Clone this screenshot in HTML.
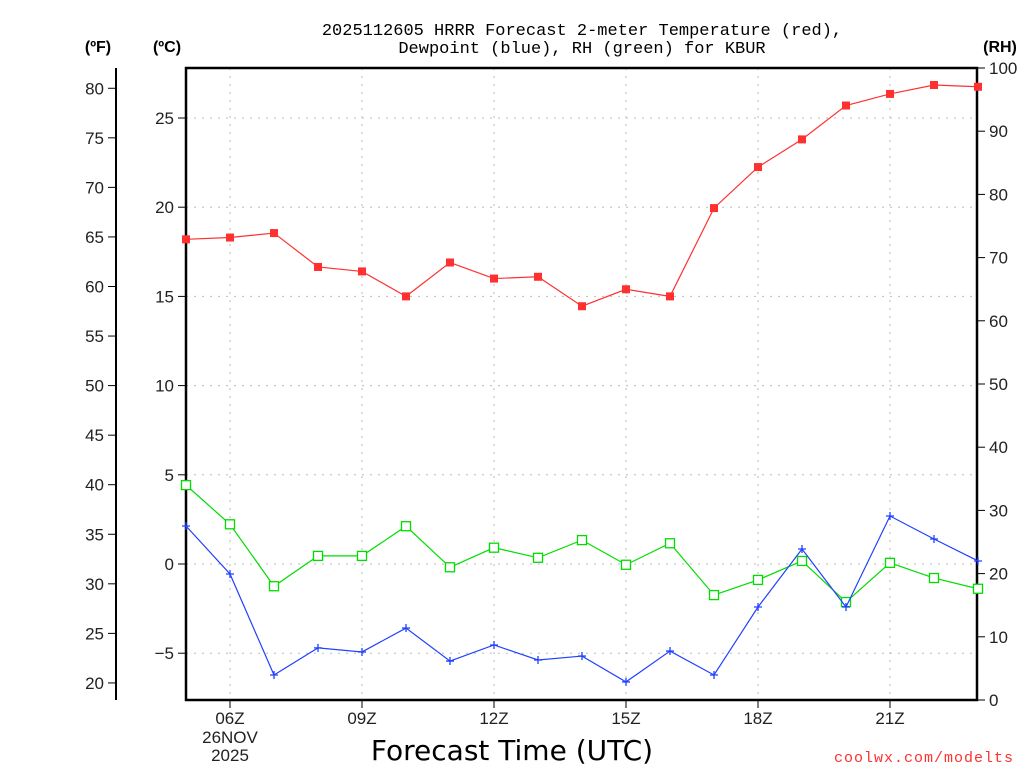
<!DOCTYPE html>
<html><head><meta charset="utf-8"><style>
body{margin:0;background:#fff;width:1024px;height:768px;overflow:hidden}
svg{display:block;font-family:"Liberation Sans","DejaVu Sans",sans-serif}
</style></head><body>
<svg id="c" width="1024" height="768">
<text x="582" y="35" text-anchor="middle" font-size="17" font-family="Liberation Mono, monospace">2025112605 HRRR Forecast 2-meter Temperature (red),</text>
<text x="582" y="53" text-anchor="middle" font-size="17" font-family="Liberation Mono, monospace">Dewpoint (blue), RH (green) for KBUR</text>
<text x="98" y="52" text-anchor="middle" font-size="16" font-weight="bold">(ºF)</text>
<text x="167" y="52" text-anchor="middle" font-size="16" font-weight="bold">(ºC)</text>
<text x="1000" y="52" text-anchor="middle" font-size="16" font-weight="bold">(RH)</text>
<text x="512" y="760" text-anchor="middle" font-size="28" font-family="DejaVu Sans, sans-serif">Forecast Time (UTC)</text>
<text x="1014" y="762" text-anchor="end" font-size="15" fill="#ff3030" font-family="Liberation Mono, monospace" letter-spacing="1">coolwx.com/modelts</text>
<g id="g"></g>
</svg>
<script>
const hours=[5,6,7,8,9,10,11,12,13,14,15,16,17,18,19,20,21,22,23];
const tempC=[18.2,18.3,18.55,16.65,16.4,15.0,16.9,16.0,16.1,14.45,15.4,15.0,19.95,22.25,23.8,25.7,26.35,26.85,26.75];
const dewC=[2.13,-0.56,-6.22,-4.7,-4.93,-3.59,-5.44,-4.54,-5.38,-5.16,-6.61,-4.88,-6.22,-2.41,0.84,-2.41,2.69,1.4,0.17];
const rh=[34.0,27.8,18.0,22.8,22.8,27.5,21.0,24.1,22.5,25.3,21.4,24.8,16.6,19.0,22.0,15.5,21.7,19.3,17.6];
const cTicks=[-5,0,5,10,15,20,25];
const fTicks=[20,25,30,35,40,45,50,55,60,65,70,75,80];
const rhTicks=[0,10,20,30,40,50,60,70,80,90,100];
const xTicks=[6,9,12,15,18,21];
const L=186,R=977,T=68,B=700;
const x=h=>L+(h-5)*44;
const yC=c=>564-c*17.84;
const yF=f=>yC((f-32)*5/9);
const yR=r=>B-r*6.32;
const g=document.getElementById('g');
const NS='http://www.w3.org/2000/svg';
function el(t,a,txt){const e=document.createElementNS(NS,t);for(const k in a)e.setAttribute(k,a[k]);if(txt!==undefined)e.textContent=txt;g.appendChild(e);return e;}
// grid
for(const h of xTicks){const e=el('line',{x1:x(h),x2:x(h),y1:T,y2:B,stroke:'#bbb','stroke-dasharray':'2 6'});

}
for(const c of cTicks){const e=el('line',{x1:L,x2:R,y1:yC(c),y2:yC(c),stroke:'#bbb','stroke-dasharray':'2 6'});

}
// ticks
for(const c of cTicks){el('line',{x1:L-8,x2:L,y1:yC(c),y2:yC(c),stroke:'#000'});
const t=el('text',{x:L-12,y:yC(c)+6,'text-anchor':'end','font-size':17,'fill':'#222'},c<0?'\u2212'+(-c):c);

}
for(const f of fTicks){el('line',{x1:108,x2:116,y1:yF(f),y2:yF(f),stroke:'#000'});
const t=el('text',{x:104,y:yF(f)+6,'text-anchor':'end','font-size':17,'fill':'#222'},f);

}
for(const r of rhTicks){el('line',{x1:R,x2:R+8,y1:yR(r),y2:yR(r),stroke:'#000'});
const t=el('text',{x:R+12,y:yR(r)+6,'font-size':17,'fill':'#222'},r);

}
for(const h of xTicks){el('line',{x1:x(h),x2:x(h),y1:B,y2:B+8,stroke:'#000'});
const t=el('text',{x:x(h),y:B+24,'text-anchor':'middle','font-size':17,'fill':'#222'},String(h).padStart(2,'0')+'Z');

}
const d1=el('text',{x:x(6),y:B+43,'text-anchor':'middle','font-size':17,'fill':'#222'},'26NOV');


const d2=el('text',{x:x(6),y:B+61,'text-anchor':'middle','font-size':17,'fill':'#222'},'2025');


// axes
el('line',{x1:116,x2:116,y1:T,y2:B,stroke:'#000','stroke-width':2});
const fr=el('rect',{x:L,y:T,width:R-L,height:B-T,fill:'none',stroke:'#000','stroke-width':2.5});


// series
function series(vals,yf,color,name,marker){
const pl=el('polyline',{points:vals.map((v,i)=>x(hours[i])+','+yf(v)).join(' '),fill:'none',stroke:color,'stroke-width':1.2});


vals.forEach((v,i)=>{const cx=x(hours[i]),cy=yf(v);let m;
if(marker==='fill'){m=el('rect',{x:cx-4,y:cy-4,width:8,height:8,fill:color});}
else if(marker==='open'){m=el('rect',{x:cx-4.5,y:cy-4.5,width:9,height:9,fill:'#fff',stroke:color,'stroke-width':1.3});}
else{m=el('path',{d:`M${cx-4},${cy}H${cx+4}M${cx},${cy-4}V${cy+4}`,stroke:color,'stroke-width':1.3});}

});}
series(rh,yR,'#00dd00','rh','open');
series(dewC,yC,'#2040ff','dewpoint','plus');
series(tempC,yC,'#ff3030','temperature','fill');
</script>
</body></html>
